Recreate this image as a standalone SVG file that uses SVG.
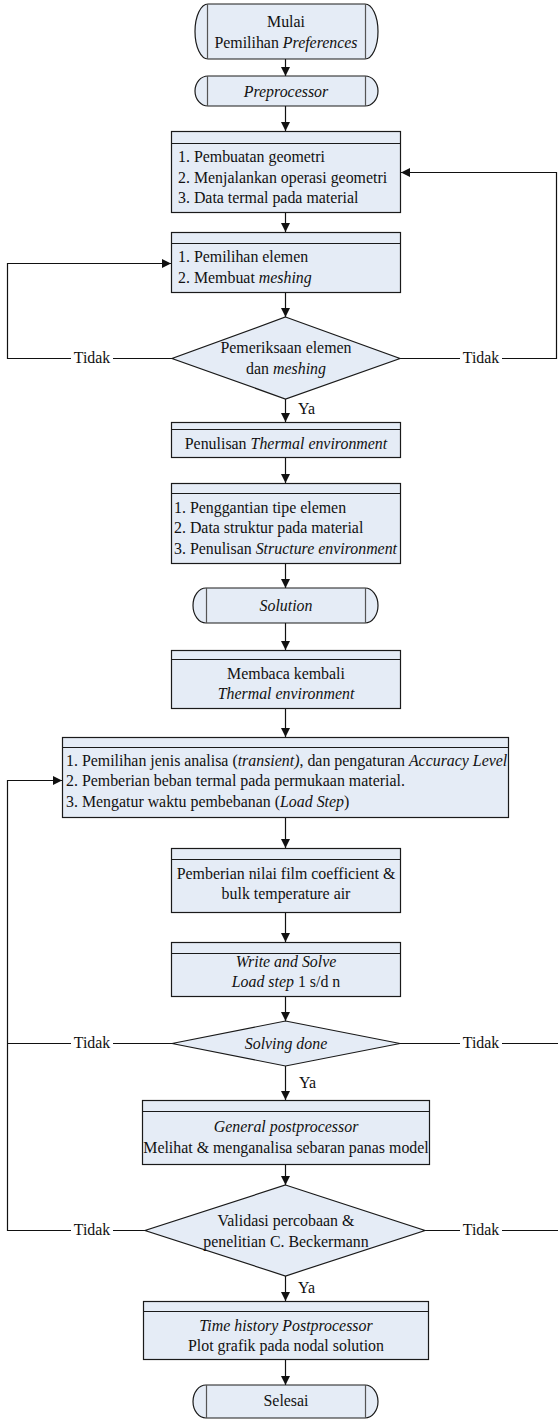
<svg xmlns="http://www.w3.org/2000/svg" width="558" height="1419" viewBox="0 0 558 1419">
<style>
.box{fill:#e5ecf6;stroke:#1a1a1a;stroke-width:1.2}
.hd{stroke:#1a1a1a;stroke-width:1.2}
.in{stroke:#555;stroke-width:1.2}
text{font-family:"Liberation Serif","Times New Roman",serif;font-size:15.9px;fill:#111}
.c{text-anchor:middle}
.con{fill:none;stroke:#111;stroke-width:1.2}
.lbl{fill:#fff}
</style>
<defs>
<marker id="ah" markerWidth="9" markerHeight="9" refX="9" refY="4.5" orient="auto" markerUnits="userSpaceOnUse">
<path d="M0,0 L9,4.5 L0,9 Z" fill="#111"/>
</marker>
</defs>
<rect width="558" height="1419" fill="#fff"/>
<g id="connectors">
<line class="con" x1="285.5" y1="59" x2="285.5" y2="76" marker-end="url(#ah)"/>
<line class="con" x1="285.5" y1="106" x2="285.5" y2="131" marker-end="url(#ah)"/>
<line class="con" x1="285.5" y1="212" x2="285.5" y2="232" marker-end="url(#ah)"/>
<line class="con" x1="285.5" y1="292" x2="285.5" y2="317" marker-end="url(#ah)"/>
<line class="con" x1="285.5" y1="399" x2="285.5" y2="422" marker-end="url(#ah)"/>
<line class="con" x1="285.5" y1="457" x2="285.5" y2="483" marker-end="url(#ah)"/>
<line class="con" x1="285.5" y1="563" x2="285.5" y2="588" marker-end="url(#ah)"/>
<line class="con" x1="285.5" y1="623" x2="285.5" y2="650" marker-end="url(#ah)"/>
<line class="con" x1="285.5" y1="708" x2="285.5" y2="737" marker-end="url(#ah)"/>
<line class="con" x1="285.5" y1="817" x2="285.5" y2="848" marker-end="url(#ah)"/>
<line class="con" x1="285.5" y1="912" x2="285.5" y2="942" marker-end="url(#ah)"/>
<line class="con" x1="285.5" y1="996" x2="285.5" y2="1021" marker-end="url(#ah)"/>
<line class="con" x1="285.5" y1="1066" x2="285.5" y2="1100" marker-end="url(#ah)"/>
<line class="con" x1="285.5" y1="1164" x2="285.5" y2="1185" marker-end="url(#ah)"/>
<line class="con" x1="285.5" y1="1276" x2="285.5" y2="1301" marker-end="url(#ah)"/>
<line class="con" x1="285.5" y1="1359" x2="285.5" y2="1385" marker-end="url(#ah)"/>
<polyline class="con" points="172,358.5 7.5,358.5 7.5,263.5 171,263.5" marker-end="url(#ah)"/>
<polyline class="con" points="400,358.5 556.5,358.5 556.5,172.5 401,172.5" marker-end="url(#ah)"/>
<polyline class="con" points="172,1043.5 7.5,1043.5"/>
<polyline class="con" points="145,1230.5 7.5,1230.5 7.5,780.5 62,780.5" marker-end="url(#ah)"/>
<polyline class="con" points="400,1043.5 558,1043.5"/>
<polyline class="con" points="425,1230.5 558,1230.5"/>
<rect class="lbl" x="71" y="350" width="42" height="16"/>
<rect class="lbl" x="460" y="350" width="42" height="16"/>
<rect class="lbl" x="71" y="1035" width="42" height="16"/>
<rect class="lbl" x="460" y="1035" width="42" height="16"/>
<rect class="lbl" x="71" y="1222" width="42" height="16"/>
<rect class="lbl" x="460" y="1222" width="42" height="16"/>
<text class="c" x="92" y="363">Tidak</text>
<text class="c" x="481" y="363">Tidak</text>
<text class="c" x="92" y="1048">Tidak</text>
<text class="c" x="481" y="1048">Tidak</text>
<text class="c" x="92" y="1235">Tidak</text>
<text class="c" x="481" y="1235">Tidak</text>
<text x="298" y="414">Ya</text>
<text x="299" y="1088">Ya</text>
<text x="298" y="1293">Ya</text>
</g>
<g id="n-mulai">
<rect class="box" x="195" y="4" width="183" height="55" rx="13" ry="27.5"/>
<line class="in" x1="207.5" y1="4" x2="207.5" y2="59"/>
<line class="in" x1="365.5" y1="4" x2="365.5" y2="59"/>
<text class="c" x="286" y="27">Mulai</text>
<text class="c" x="286" y="48">Pemilihan <tspan font-style="italic">Preferences</tspan></text>
</g>
<g id="n-preprocessor">
<rect class="box" x="195" y="76" width="183" height="30" rx="13" ry="15"/>
<line class="in" x1="207.5" y1="76" x2="207.5" y2="106"/>
<line class="in" x1="365.5" y1="76" x2="365.5" y2="106"/>
<text class="c" x="286" y="97" font-style="italic">Preprocessor</text>
</g>
<g id="n-geometri">
<rect class="box" x="171.5" y="131.5" width="229" height="81"/>
<line class="hd" x1="171.5" y1="143.5" x2="400.5" y2="143.5"/>
<text x="178" y="162">1. Pembuatan geometri</text>
<text x="178" y="183">2. Menjalankan operasi geometri</text>
<text x="178" y="203">3. Data termal pada material</text>
</g>
<g id="n-elemen">
<rect class="box" x="171.5" y="232.5" width="229" height="60"/>
<line class="hd" x1="171.5" y1="243.5" x2="400.5" y2="243.5"/>
<text x="178" y="262">1. Pemilihan elemen</text>
<text x="178" y="283">2. Membuat <tspan font-style="italic">meshing</tspan></text>
</g>
<g id="n-periksa">
<polygon class="box" points="285.5,317 400,358.5 285.5,399 172,358.5"/>
<text class="c" x="286" y="353">Pemeriksaan elemen</text>
<text class="c" x="286" y="374">dan <tspan font-style="italic">meshing</tspan></text>
</g>
<g id="n-thermal">
<rect class="box" x="171.5" y="422.5" width="229" height="35"/>
<line class="hd" x1="171.5" y1="429.5" x2="400.5" y2="429.5"/>
<text class="c" x="286" y="449">Penulisan <tspan font-style="italic">Thermal environment</tspan></text>
</g>
<g id="n-struktur">
<rect class="box" x="171.5" y="483.5" width="229" height="80"/>
<line class="hd" x1="171.5" y1="493.5" x2="400.5" y2="493.5"/>
<text x="174" y="513">1. Penggantian tipe elemen</text>
<text x="174" y="533">2. Data struktur pada material</text>
<text x="174" y="554">3. Penulisan <tspan font-style="italic">Structure environment</tspan></text>
</g>
<g id="n-solution">
<rect class="box" x="193" y="588" width="185" height="35" rx="13" ry="17.5"/>
<line class="in" x1="206.5" y1="588" x2="206.5" y2="623"/>
<line class="in" x1="365.5" y1="588" x2="365.5" y2="623"/>
<text class="c" x="286" y="611" font-style="italic">Solution</text>
</g>
<g id="n-membaca">
<rect class="box" x="171.5" y="650.5" width="229" height="58"/>
<line class="hd" x1="171.5" y1="659.5" x2="400.5" y2="659.5"/>
<text class="c" x="286" y="679">Membaca kembali</text>
<text class="c" x="286" y="699" font-style="italic">Thermal environment</text>
</g>
<g id="n-analisa">
<rect class="box" x="62.5" y="737.5" width="446" height="80"/>
<line class="hd" x1="62.5" y1="747.5" x2="508.5" y2="747.5"/>
<text x="66" y="766">1. Pemilihan jenis analisa (<tspan font-style="italic">transient)</tspan>, dan pengaturan <tspan font-style="italic">Accuracy Level</tspan></text>
<text x="66" y="786">2. Pemberian beban termal pada permukaan material.</text>
<text x="66" y="807">3. Mengatur waktu pembebanan (<tspan font-style="italic">Load Step</tspan>)</text>
</g>
<g id="n-film">
<rect class="box" x="171.5" y="848.5" width="229" height="64"/>
<line class="hd" x1="171.5" y1="859.5" x2="400.5" y2="859.5"/>
<text class="c" x="286" y="879">Pemberian nilai film coefficient &amp;</text>
<text class="c" x="286" y="899">bulk temperature air</text>
</g>
<g id="n-solve">
<rect class="box" x="171.5" y="942.5" width="229" height="54"/>
<line class="hd" x1="171.5" y1="953.5" x2="400.5" y2="953.5"/>
<text class="c" x="286" y="967" font-style="italic">Write and Solve</text>
<text class="c" x="286" y="987"><tspan font-style="italic">Load step</tspan> 1 s/d n</text>
</g>
<g id="n-solving">
<polygon class="box" points="285.5,1021 400,1043.5 285.5,1066 172,1043.5"/>
<text class="c" x="286" y="1049" font-style="italic">Solving done</text>
</g>
<g id="n-general">
<rect class="box" x="142.5" y="1100.5" width="287" height="64"/>
<line class="hd" x1="142.5" y1="1111.5" x2="429.5" y2="1111.5"/>
<text class="c" x="286" y="1132" font-style="italic">General postprocessor</text>
<text class="c" x="286" y="1153">Melihat &amp; menganalisa sebaran panas model</text>
</g>
<g id="n-validasi">
<polygon class="box" points="285.5,1185 425,1230.5 285.5,1276 145,1230.5"/>
<text class="c" x="286" y="1226">Validasi percobaan &amp;</text>
<text class="c" x="286" y="1247">penelitian C. Beckermann</text>
</g>
<g id="n-time">
<rect class="box" x="143.5" y="1301.5" width="285" height="58"/>
<line class="hd" x1="143.5" y1="1311.5" x2="428.5" y2="1311.5"/>
<text class="c" x="286" y="1331" font-style="italic">Time history Postprocessor</text>
<text class="c" x="286" y="1351">Plot grafik pada nodal solution</text>
</g>
<g id="n-selesai">
<rect class="box" x="193" y="1385" width="185" height="33" rx="13" ry="16.5"/>
<line class="in" x1="206.5" y1="1385" x2="206.5" y2="1418"/>
<line class="in" x1="365.5" y1="1385" x2="365.5" y2="1418"/>
<text class="c" x="286" y="1406">Selesai</text>
</g>
</svg>
